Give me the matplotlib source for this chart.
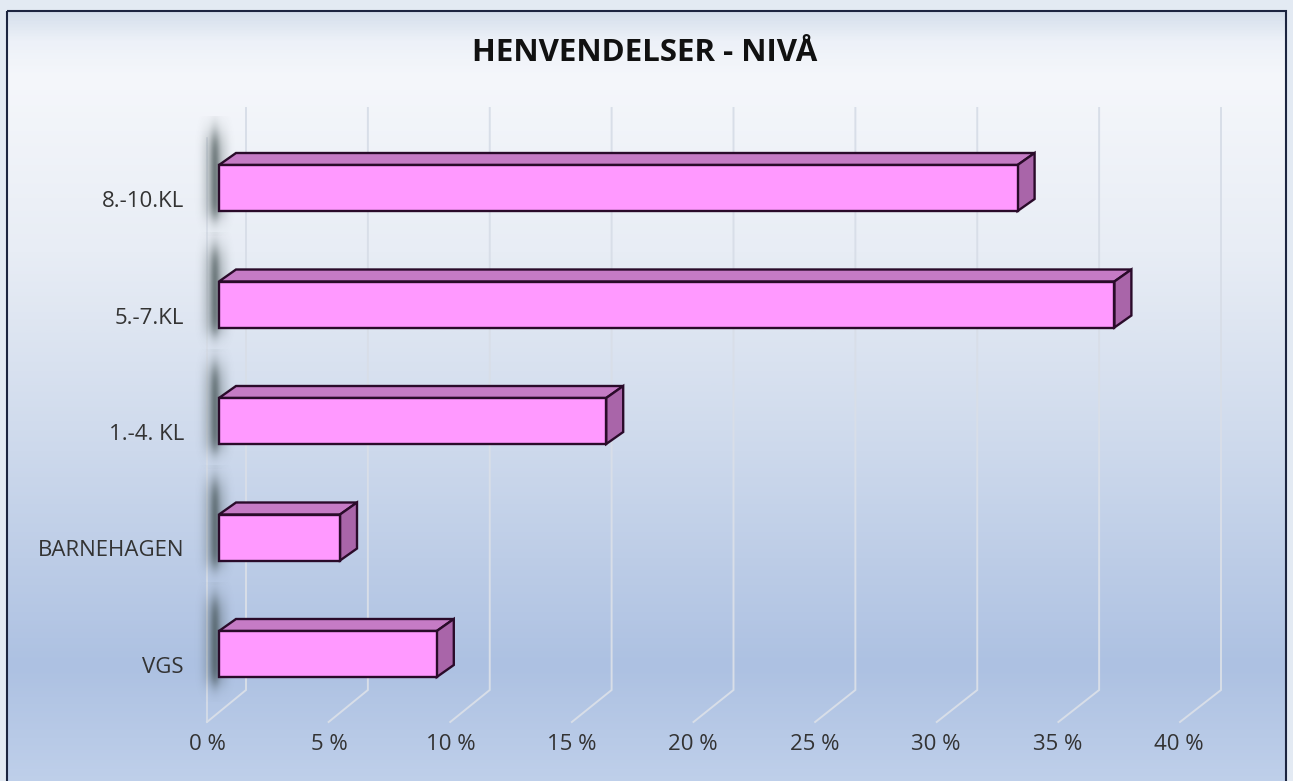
import numpy as np
import matplotlib
matplotlib.use('Agg')
import matplotlib.pyplot as plt
from matplotlib.patches import Polygon, Rectangle
from matplotlib.colors import LinearSegmentedColormap

# ---------------- data ----------------
categories = ['VGS', 'BARNEHAGEN', '1.-4. KL', '5.-7.KL', '8.-10.KL']
values = [9, 5, 16, 37, 33]
xticks = [0, 5, 10, 15, 20, 25, 30, 35, 40]
xtick_labels = [f'{t} %' for t in xticks]
title = 'HENVENDELSER - NIVÅ'

FONT = ['Open Sans', 'DejaVu Sans']
plt.rcParams['font.family'] = FONT

W, H = 1293, 781
fig = plt.figure(figsize=(W / 100, H / 100), dpi=100)
fig.patch.set_facecolor('#E3EAF3')

# ---------------- background (chart area gradient) ----------------
bg = fig.add_axes([0, 0, 1, 1], zorder=-10)
bg.set_xlim(0, W)
bg.set_ylim(H, 0)
bg.axis('off')
stops = [(0.0, '#D5DFEC'), (0.035, '#EDF1F8'), (0.08, '#F5F7FB'),
         (0.30, '#E8EDF5'), (0.55, '#CDD9EC'), (0.82, '#ADC1E2'),
         (1.0, '#C3D3EC')]
cmap = LinearSegmentedColormap.from_list('bg', stops)
grad = np.linspace(0, 1, 500)[:, None]
bg.imshow(grad, cmap=cmap, extent=(7, 1286, H + 30, 11), aspect='auto',
          interpolation='bilinear')
bg.add_patch(Rectangle((7, 11), 1279, H + 30, fill=False, ec='#1C2540', lw=1.5))

# ---------------- main axes (front plane of bars) ----------------
PX_X = 24.2          # pixels per percent
PX_Y = 116.5         # pixels per category
XMIN, XMAX = -1, 40
ux, uy = 1 / PX_X, 1 / PX_Y
ax = fig.add_axes([(219 + XMIN * PX_X) / W, 1 - 712.25 / H,
                   (XMAX - XMIN) * PX_X / W, 5 * PX_Y / H])
ax.patch.set_visible(False)
for s in ax.spines.values():
    s.set_visible(False)

# gridlines (back wall + floor diagonal)
ytop = 4.5 + (129.75 - 108) * uy
yback = 4.5 - (690 - 129.75) * uy
yfront = 4.5 - (722 - 129.75) * uy
gcol = '#D8DEE8'
for t in xticks:
    xb = (27 + t * 24.375) * ux
    xf = (-12 + t * 24.325) * ux
    ax.plot([xb, xb, xf], [ytop, yback, yfront], color=gcol, lw=1.4,
            zorder=1, clip_on=False, solid_joinstyle='miter')
x_wall = -12 * ux
ax.plot([x_wall, x_wall], [4.5 - (138 - 129.75) * uy, yfront], color=gcol,
        lw=1.2, zorder=1, clip_on=False)

ypos = np.arange(len(categories))
h = 46 * uy
dx, dy = 17 * ux, 12 * uy

# soft shadows at bar roots
xs = np.linspace(190, 248, 90)
ys = np.linspace(-72, 48, 180)
XX, YY = np.meshgrid(xs, ys)
ax_prof = np.exp(-((XX - 215) / 9.5) ** 2)
streak = 0.85 + 0.15 * np.cos((XX - 215) / 2.3)
top_edge = 1 / (1 + np.exp(-(YY + 55) / 7.0))
bot_edge = 1 / (1 + np.exp((YY - 30) / 5.0))
A = 0.68 * ax_prof * streak * top_edge * bot_edge
shadow = np.zeros(A.shape + (4,))
shadow[..., 0] = 0.22
shadow[..., 1] = 0.28
shadow[..., 2] = 0.28
shadow[..., 3] = A
for y in ypos:
    ext = ((190 - 219) * ux, (248 - 219) * ux, y - 48 * uy, y + 72 * uy)
    im = ax.imshow(shadow, extent=ext, origin='upper', aspect='auto',
                   zorder=2, interpolation='bilinear')
    im.set_clip_on(False)

# bars
edge = '#2A0B2A'
ax.barh(ypos, values, height=h, color='#FF99FF', edgecolor=edge, lw=1.7,
        zorder=4)
for y, v in zip(ypos, values):
    top = Polygon([(0, y + h / 2), (v, y + h / 2), (v + dx, y + h / 2 + dy),
                   (dx, y + h / 2 + dy)], closed=True, fc='#C57BC5', ec=edge,
                  lw=1.7, zorder=3.5, joinstyle='miter')
    side = Polygon([(v, y - h / 2), (v, y + h / 2), (v + dx, y + h / 2 + dy),
                    (v + dx, y - h / 2 + dy)], closed=True, fc='#A965A9',
                   ec=edge, lw=1.7, zorder=3.6, joinstyle='miter')
    ax.add_patch(top)
    ax.add_patch(side)

# tick labels: right edge of category labels 35 px left of the bar roots
ax.set_yticks(ypos - 11 * uy, categories)
ax.tick_params(axis='y', length=0, pad=(35 + XMIN * PX_X) * 0.72,
               labelsize=16, labelcolor='#333333')
ax.set_xticks([(-11.5 + t * 24.29) * ux for t in xticks], xtick_labels)
ax.tick_params(axis='x', length=0, pad=22 * 0.72, labelsize=16,
               labelcolor='#333333')

# limits last (set_xticks would otherwise widen them)
ax.set_xlim(XMIN, XMAX)
ax.set_ylim(-0.5, 4.5)

fig.text(645 / W, 1 - 53 / H, title, ha='center', va='center', fontsize=22.5,
         fontweight='bold', color='#111111')

fig.savefig('out.png', dpi=100, facecolor=fig.get_facecolor())
